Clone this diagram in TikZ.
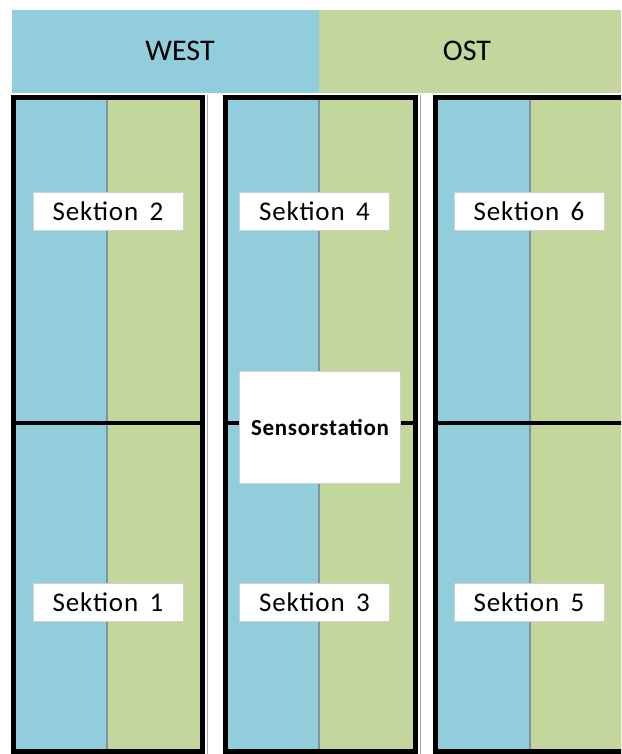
\documentclass[tikz,border=0pt]{standalone}
\usepackage{fontspec}
\setmainfont{Carlito}
\newfontfamily\spacedfont[LetterSpace=3]{Carlito}
\definecolor{zoneblue}{HTML}{92CDDC}
\definecolor{zonegreen}{HTML}{C3D69B}
\definecolor{divider}{HTML}{7F92A0}
\definecolor{boxedge}{HTML}{D0D0D0}
\tikzset{
  x=1pt, y=-1pt,
  frame/.style={draw=black, line width=5pt},
  midline/.style={draw=black, line width=4pt},
  split/.style={draw=divider, line width=1.2pt},
  edge/.style={draw=divider!80, line width=1pt},
  sektion/.style={draw=boxedge, line width=0.6pt, fill=white, minimum width=150pt,
    minimum height=38pt, inner sep=0pt, font=\spacedfont\fontsize{27}{29}\selectfont},
  header/.style={font=\fontsize{30}{32}\selectfont, inner sep=0pt},
}
\begin{document}
\begin{tikzpicture}
\useasboundingbox (0,0) rectangle (621,754);
\clip (0,0) rectangle (621,754);
\fill[white] (0,0) rectangle (621,754);

% header band
\fill[zoneblue] (12,10) rectangle (319,93);
\fill[zonegreen] (319,10) rectangle (621,93);
\node[header] (west) at (180,51) {WEST};
\node[header] (ost) at (467,51) {OST};

% three columns: blue/green halves
\foreach \l/\m/\r in {13/107/203, 226/319/416, 436/530/640}{
  \fill[zoneblue] (\l,98) rectangle (\m,752);
  \fill[zonegreen] (\m,98) rectangle (\r,752);
  \draw[split] (\m,98) -- (\m,752);
  \draw[midline] (\l,423) -- (\r,423);
}

% column frames with their thin outer edge
\draw[frame] (13.5,97.5) rectangle (202.5,751.5);
\draw[edge] (207,95) -- (207,754);
\draw[frame] (225.5,97.5) rectangle (415.5,751.5);
\draw[edge] (420.5,95) -- (420.5,754);
\draw[frame] (640,97.5) -- (435.5,97.5) -- (435.5,751.5) -- (640,751.5);

% section labels
\node[sektion] (s2) at (108,211) {Sektion\, 2};
\node[sektion] (s4) at (314.5,211) {Sektion\, 4};
\node[sektion] (s6) at (529,211) {Sektion\, 6};
\node[sektion] (s1) at (108,602.5) {Sektion\, 1};
\node[sektion] (s3) at (314.5,602.5) {Sektion\, 3};
\node[sektion] (s5) at (529,602.5) {Sektion\, 5};

% sensor station
\node[draw=boxedge, line width=0.6pt, fill=white, minimum width=161pt, minimum height=112pt,
  inner sep=0pt, font=\spacedfont\fontsize{23}{25}\selectfont\bfseries] (sensor) at (320,427) {Sensorstation};
\end{tikzpicture}
\end{document}
